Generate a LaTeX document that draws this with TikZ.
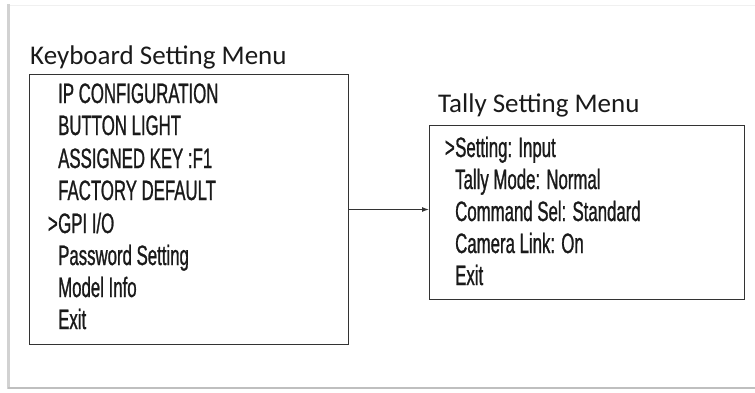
\documentclass[tikz,border=0pt]{standalone}
\usepackage{fontspec}
\usetikzlibrary{arrows.meta}
\newfontfamily\titlefont{Carlito}
\newfontfamily\agency[FakeStretch=0.6,FakeBold=0.9]{Liberation Sans}
\definecolor{ink}{HTML}{1A1A1A}
\definecolor{frame}{HTML}{333333}
\begin{document}
\begin{tikzpicture}[x=1pt,y=-1pt,
  menubox/.style={draw=frame, line width=1pt, anchor=north west, inner sep=0pt},
  title/.style={anchor=base west, inner sep=0pt, font=\titlefont\fontsize{27}{27}\selectfont, text=ink},
  item/.style={anchor=base west, inner sep=0pt, font=\agency\fontsize{28}{28}\selectfont, text=ink},
  shadow/.style={line width=2.5pt}]
\useasboundingbox (0,0) rectangle (755,392);
% outer frame shading
\draw[gray!12, line width=1.2pt] (8,5.5) -- (760,5.5);
\draw[gray!35, shadow] (8.5,4) -- (8.5,389);
\draw[gray!50, shadow] (8,388) -- (760,388);
% titles
\node[title] (kt) at (30,64) {Keyboard Setting Menu};
\node[title] (tt) at (438,112) {Tally Setting Menu};
% boxes
\node[menubox, minimum width=319pt, minimum height=270pt] (kbox) at (29,74) {};
\node[menubox, minimum width=315pt, minimum height=174pt] (tbox) at (429,125) {};
% keyboard items
\node[item] (k1) at (58,103) {IP CONFIGURATION};
\node[item] (k2) at (58,135) {BUTTON LIGHT};
\node[item] (k3) at (58,168) {ASSIGNED KEY :F1};
\node[item] (k4) at (58,200) {FACTORY DEFAULT};
\node[item, anchor=base east] (k5a) at (58,233) {>};
\node[item] (k5) at (58,233) {GPI I/O};
\node[item] (k6) at (58,265) {Password Setting};
\node[item] (k7) at (58,297) {Model Info};
\node[item] (k8) at (58,329) {Exit};
% tally items
\node[item, anchor=base east] (t1a) at (455,157) {>};
\node[item] (t1) at (455,157) {Setting: Input};
\node[item] (t2) at (455,189) {Tally Mode: Normal};
\node[item] (t3) at (455,221) {Command Sel: Standard};
\node[item] (t4) at (455,253) {Camera Link: On};
\node[item] (t5) at (455,285) {Exit};
% connector
\draw[frame, line width=1pt, -{Latex[length=7pt,width=5pt]}] (kbox.east) -- (tbox.west |- kbox.east);
\end{tikzpicture}
\end{document}
